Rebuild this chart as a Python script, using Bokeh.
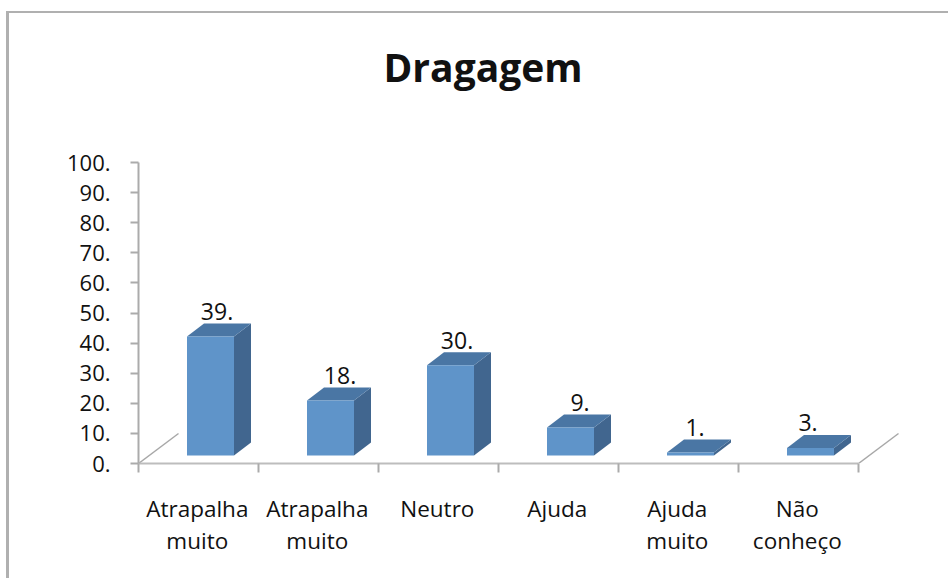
from bokeh.plotting import figure
from bokeh.models import Range1d, FixedTicker
from bokeh.core.properties import value
from bokeh.embed import file_html
from bokeh.resources import INLINE

title_text = "Dragagem"
categories = ["Atrapalha\nmuito", "Atrapalha\nmuito", "Neutro", "Ajuda", "Ajuda\nmuito", "Não\nconheço"]
values = [39.5, 18.3, 30.0, 9.3, 1.0, 2.5]
value_labels = ["39.", "18.", "30.", "9.", "1.", "3."]
y_ticks = [0, 10, 20, 30, 40, 50, 60, 70, 80, 90, 100]
y_tick_labels = {t: f"{t}." for t in y_ticks}

FONT = "Open Sans"
FRONT, SIDE, TOP = "#5F94C9", "#41668F", "#4A76A4"
AXIS = "#ABABAB"
BORDER = "#B0B0B0"

W, H = 948, 578
FL, FT, FR, FB = 138, 120, 940, 463
PX_X, PX_Y = 120.0, 3.01
LABEL_SHIFT = [30, 33, 30, 33, 28, 21]  # pixels from each bar's left edge to its label's centre

p = figure(width=W, height=H, output_backend="svg", toolbar_location=None,
           x_range=Range1d(0, (FR - FL) / PX_X), y_range=Range1d(0, (FB - FT) / PX_Y),
           min_border_left=FL, min_border_right=W - FR, min_border_top=FT, min_border_bottom=H - FB,
           background_fill_color=None, border_fill_color=None)
p.outline_line_color = None
p.grid.visible = False

p.title.text = title_text
p.title.align = "left"
p.title.offset = 245
p.title.standoff = 56
p.title.text_font = FONT
p.title.text_font_size = "39px"
p.title.text_font_style = "bold"
p.title.text_color = "#111111"

n = len(categories)
centers = [i + 0.49 for i in range(n)]
xa = p.xaxis[0]
xa.ticker = FixedTicker(ticks=centers, minor_ticks=list(range(n + 1)))
xa.bounds = (0, n)
xa.major_label_overrides = dict(zip(centers, categories))
xa.major_label_text_font = FONT
xa.major_label_text_font_size = "22.5px"
xa.major_label_text_color = "#111111"
xa.major_label_text_line_height = 1.06
xa.major_label_standoff = 20
xa.major_tick_line_color = None
xa.minor_tick_in = 0
xa.minor_tick_out = 9
xa.minor_tick_line_color = AXIS
xa.minor_tick_line_width = 2
xa.axis_line_color = "#BDBDBD"
xa.axis_line_width = 2

ya = p.yaxis[0]
ya.ticker = FixedTicker(ticks=y_ticks)
ya.bounds = (0, 100)
ya.major_label_overrides = y_tick_labels
ya.major_label_text_font = FONT
ya.major_label_text_font_size = "22px"
ya.major_label_text_color = "#111111"
ya.major_label_standoff = 20
ya.major_tick_in = 0
ya.major_tick_out = 8
ya.minor_tick_line_color = None
ya.axis_line_color = AXIS
ya.axis_line_width = 2
ya.major_tick_line_color = AXIS
ya.major_tick_line_width = 2

p.segment([0, n], [0, 0], [0 + 40 / PX_X, n + 40 / PX_X], [30 / PX_Y, 30 / PX_Y],
          line_color="#A8A8A8", line_width=1.5)

bar_w, dx, dy = 47 / PX_X, 17 / PX_X, 13 / PX_Y
x0, base = 48.5 / PX_X, 8 / PX_Y
fx, fy, sx, sy, tx, ty, lx, ly = [], [], [], [], [], [], [], []
for i, v in enumerate(values):
    l, r, b, t = i + x0, i + x0 + bar_w, base, base + v
    fx.append([l, r, r, l]); fy.append([b, b, t, t])
    sx.append([r, r + dx, r + dx, r]); sy.append([b, b + dy, t + dy, t])
    tx.append([l, l + dx, r + dx, r]); ty.append([t, t + dy, t + dy, t])
    lx.append(l + LABEL_SHIFT[i] / PX_X); ly.append(t + dy)
p.patches(sx, sy, fill_color=SIDE, line_color=None)
p.patches(tx, ty, fill_color=TOP, line_color=None)
p.patches(fx, fy, fill_color=FRONT, line_color=None)

p.text(lx, ly, text=value_labels, text_align="center", text_baseline="middle", y_offset=-12,
       text_font=value(FONT), text_font_size="23px", text_color="#111111")

p.styles = {"background": (
    f"linear-gradient({BORDER},{BORDER}) 6px 11px / 100% 2px no-repeat,"
    f"linear-gradient({BORDER},{BORDER}) 6px 11px / 3px 100% no-repeat, white")}

open("out.html", "w").write(file_html(p, INLINE))
